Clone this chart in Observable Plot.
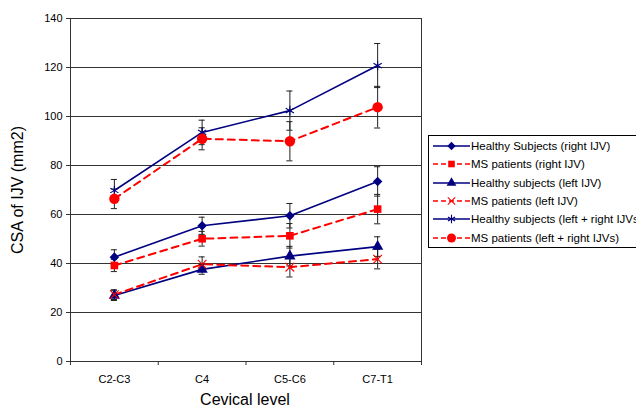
<!DOCTYPE html>
<html><head><meta charset="utf-8">
<script src="https://cdn.jsdelivr.net/npm/d3@7"></script>
<script src="https://cdn.jsdelivr.net/npm/@observablehq/plot@0.6"></script>
<style>
body{margin:0;background:#fff;font-family:"Liberation Sans",Arial,sans-serif}
#wrap{position:relative;width:636px;height:409px;overflow:hidden}
#ylab{position:absolute;left:18px;top:190px;transform:translate(-50%,-50%) rotate(-90deg);font-size:16px;white-space:nowrap;color:#000}
#xlab{position:absolute;left:245px;top:400px;transform:translate(-50%,-50%);font-size:16px;white-space:nowrap;color:#000}
#legend{position:absolute;left:428px;top:135px;width:240px;height:110px;border:1px solid #000;background:#fff;padding-top:1px}
.row{display:flex;align-items:center;height:18.3px;font-size:11.5px;white-space:nowrap;color:#000}
.row svg{display:block;margin-left:4px}
</style></head><body><div id="wrap"><div id="ylab">CSA of IJV (mm2)</div><div id="xlab">Cevical level</div><div id="legend"></div></div>
<script>
const categories = ["C2-C3","C4","C5-C6","C7-T1"];
const yTicks = [0,20,40,60,80,100,120,140];

const seriesNames = [
  "Healthy Subjects (right IJV)",
  "MS patients (right IJV)",
  "Healthy subjects (left IJV)",
  "MS patients (left IJV)",
  "Healthy subjects (left + right IJVs)",
  "MS patients (left + right IJVs)"
];
const healthyRight = [42.6, 55.4, 59.5, 73.5];
const healthyRightErr = [3, 3.5, 5, 6];
const msRight = [39.2, 50.1, 51.3, 62.2];
const msRightErr = [2.5, 3, 5, 6];
const healthyLeft = [26.9, 37.6, 43.0, 46.9];
const healthyLeftErr = [2, 2, 4, 4];
const msLeft = [27.3, 39.7, 38.5, 41.8];
const msLeftErr = [2, 3, 4, 4];
const healthyTotal = [69.8, 93.5, 102.4, 120.8];
const healthyTotalErr = [4.5, 5, 8, 9];
const msTotal = [66.4, 90.9, 89.9, 103.8];
const msTotalErr = [4, 4.5, 8, 8.5];

const blue = "#000080", red = "#ff0000";
const styles = [
  {color: blue, dash: null, symbol: "diamond2", fill: blue, r: 4.3},
  {color: red, dash: "7,5", symbol: "square", fill: red, r: 4.3},
  {color: blue, dash: null, symbol: "triangle", fill: blue, r: 4.2},
  {color: red, dash: "7,5", symbol: "times", fill: "none", r: 4},
  {color: blue, dash: null, symbol: "asterisk", fill: "none", r: 4.5},
  {color: red, dash: "7,5", symbol: "circle", fill: red, r: 5.2}
];
const values = [healthyRight, msRight, healthyLeft, msLeft, healthyTotal, msTotal];
const errs = [healthyRightErr, msRightErr, healthyLeftErr, msLeftErr, healthyTotalErr, msTotalErr];

const rows = [];
values.forEach((vals, s) => vals.forEach((v, i) => rows.push({
  s, name: seriesNames[s], x: i + 0.5, cat: categories[i], y: v, lo: v - errs[s][i], hi: v + errs[s][i]
})));

const capW = 0.035;
const marks = [
  Plot.ruleY(yTicks, {stroke: "#333", strokeWidth: 1}),
  Plot.frame({stroke: "#333"}),
  Plot.axisY({ticks: yTicks, tickSize: 4, tickPadding: 4, fontSize: 11, label: null, stroke: "#333"}),
  Plot.axisX({ticks: [0,1,2,3,4], tickFormat: () => "", tickSize: 4, label: null, stroke: "#333"}),
  Plot.axisX({ticks: [0.5,1.5,2.5,3.5], tickFormat: t => categories[Math.floor(t)], tickSize: 0, tickPadding: 14, fontSize: 11, label: null})
];
styles.forEach((st, s) => {
  const d = rows.filter(r => r.s === s);
  marks.push(Plot.line(d, {x: "x", y: "y", stroke: st.color, strokeWidth: st.dash ? 2 : 1.6, strokeDasharray: st.dash}));
});
marks.push(
  Plot.ruleX(rows, {x: "x", y1: "lo", y2: "hi", stroke: "#222", strokeWidth: 1}),
  Plot.ruleY(rows, {y: "lo", x1: d => d.x - capW, x2: d => d.x + capW, stroke: "#222", strokeWidth: 1}),
  Plot.ruleY(rows, {y: "hi", x1: d => d.x - capW, x2: d => d.x + capW, stroke: "#222", strokeWidth: 1})
);
styles.forEach((st, s) => {
  const d = rows.filter(r => r.s === s);
  marks.push(Plot.dot(d, {x: "x", y: "y", symbol: () => st.symbol, r: st.r,
    fill: st.fill === "none" ? "none" : st.fill, stroke: st.fill === "none" ? st.color : "none",
    strokeWidth: 1.1}));
});

const chart = Plot.plot({
  width: 636, height: 409,
  marginLeft: 70, marginRight: 215, marginTop: 18, marginBottom: 48,
  style: {fontFamily: "Liberation Sans, Arial, sans-serif", background: "white", color: "#000"},
  x: {type: "linear", domain: [0, 4], axis: null},
  y: {domain: [0, 140], axis: null},
  symbol: {type: "identity"},
  marks
});
chart.style.position = "absolute";
chart.style.left = "0"; chart.style.top = "0";
const wrap = document.getElementById("wrap");
wrap.insertBefore(chart, wrap.firstChild);

const symMap = {diamond2: d3.symbolDiamond2, square: d3.symbolSquare, triangle: d3.symbolTriangle,
  times: d3.symbolTimes, asterisk: d3.symbolAsterisk, circle: d3.symbolCircle};
const legend = d3.select("#legend");
styles.forEach((st, s) => {
  const row = legend.append("div").attr("class", "row");
  const svg = row.append("svg").attr("width", 38).attr("height", 14);
  svg.append("line").attr("x1", 0).attr("x2", 37).attr("y1", 7).attr("y2", 7)
    .attr("stroke", st.color).attr("stroke-width", st.dash ? 1.6 : 1.4)
    .attr("stroke-dasharray", st.dash ? "5,3" : null);
  const size = Math.PI * st.r * st.r * 0.75;
  svg.append("path").attr("d", d3.symbol(symMap[st.symbol], size)())
    .attr("transform", "translate(18.5,7)")
    .attr("fill", st.fill).attr("stroke", st.fill === "none" ? st.color : "none").attr("stroke-width", 1.1);
  row.append("span").text(seriesNames[s]);
});
</script></body></html>
